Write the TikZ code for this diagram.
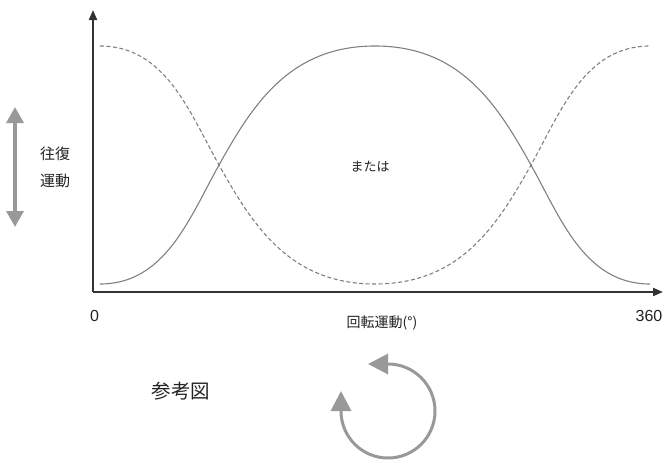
\documentclass[tikz,border=0pt]{standalone}
\usepackage{fontspec}
\setmainfont{Liberation Sans}
\newfontfamily\jp{Noto Sans CJK JP}
\usetikzlibrary{arrows.meta}
\definecolor{axiscol}{HTML}{333333}
\definecolor{curvecol}{HTML}{808080}
\definecolor{arrowgray}{HTML}{999999}
\definecolor{textcol}{HTML}{222222}
\begin{document}
\begin{tikzpicture}[x=1pt,y=-1pt,
  axisline/.style={draw=axiscol,line width=2pt,-{Triangle[length=10pt,width=8pt]}},
  solidcurve/.style={draw=curvecol,line width=1.1pt},
  dashcurve/.style={draw=curvecol,line width=1.1pt,dash pattern=on 4pt off 2.5pt},
  bigarrow/.style={draw=arrowgray,line width=3.5pt},
  lbl/.style={text=textcol,inner sep=0pt,anchor=center}
]
\useasboundingbox (0,0) rectangle (664,461);
% axes
\coordinate (O) at (93,292);
\coordinate (ytip) at (93,10);
\coordinate (xtip) at (663,292);
\draw[axisline] (O) -- (ytip);
\draw[axisline] (O) -- (xtip);
% solid curve
\draw[solidcurve] (100,284) .. controls (165,284) and (189,219) .. (219,165)
  .. controls (253,104) and (290,46) .. (375,46)
  .. controls (460,46) and (497,104) .. (531,165)
  .. controls (561,219) and (585,284) .. (650,284);
% dashed curve
\draw[dashcurve] (100,46) .. controls (165,46) and (189,111) .. (219,165)
  .. controls (253,226) and (290,284) .. (375,284)
  .. controls (460,284) and (497,226) .. (531,165)
  .. controls (561,111) and (585,46) .. (650,46);
% reciprocating arrow
\coordinate (rtop) at (15,107);
\coordinate (rbot) at (15,227);
\draw[bigarrow,{Triangle[length=16pt,width=17pt]}-{Triangle[length=16pt,width=17pt]}] (rtop) -- (rbot);
% rotation arrow
\coordinate (ctip) at (368,364);
\coordinate (ltip) at (341,391);
\draw[bigarrow,line width=3pt,{Triangle[length=20pt,width=20pt]}-{Triangle[length=20pt,width=20pt]}]
  (ctip) -- (388,364) arc[start angle=-90,end angle=180,radius=47] -- (ltip);
% labels
\node[lbl,font=\jp\fontsize{15}{18}\selectfont] (l1) at (55,153.5) {往復};
\node[lbl,font=\jp\fontsize{15}{18}\selectfont] (l2) at (55,180.5) {運動};
\node[lbl,font=\jp\fontsize{13}{16}\selectfont] (mata) at (370,167) {または};
\node[lbl,font=\fontsize{16}{19}\selectfont] (zero) at (94.5,316) {0};
\node[lbl,font=\fontsize{16}{19}\selectfont] (end) at (649,316) {360};
\node[lbl,font=\jp\fontsize{14}{17}\selectfont] (xlab) at (382,323) {回転運動(°)};
\node[lbl,font=\jp\fontsize{19.5}{23}\selectfont] (ref) at (181,391.5) {参考図};
\end{tikzpicture}
\end{document}
